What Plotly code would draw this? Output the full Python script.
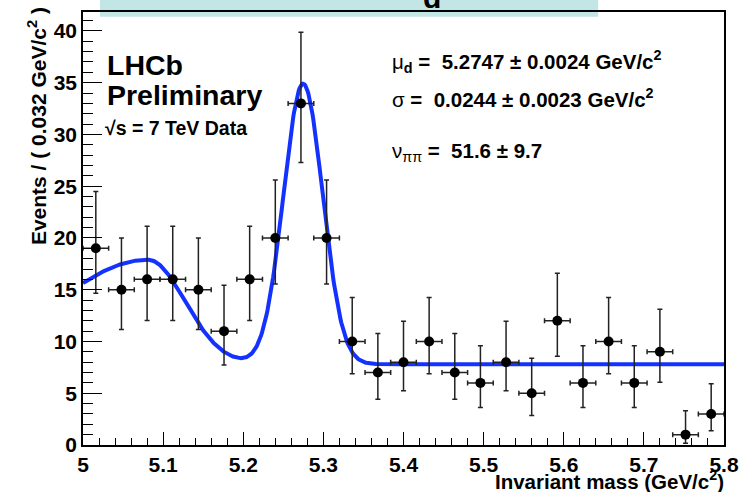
import numpy as np
import plotly.graph_objects as go

# Binned invariant-mass spectrum (bin width 0.032 GeV/c^2)
mass_centers = [5.016, 5.048, 5.080, 5.112, 5.144, 5.176, 5.208, 5.240, 5.272,
                5.304, 5.336, 5.368, 5.400, 5.432, 5.464, 5.496, 5.528, 5.560,
                5.592, 5.624, 5.656, 5.688, 5.720, 5.752, 5.784]
events = [19, 15, 16, 16, 15, 11, 16, 20, 33, 20, 10, 7, 8, 10, 7, 6, 8, 5,
          12, 6, 10, 6, 9, 1, 3]
# Asymmetric Poisson (68%) uncertainties
err_up = [5.48, 4.99, 5.12, 5.12, 4.99, 4.42, 5.12, 5.59, 6.87, 5.59, 4.26,
          3.77, 3.95, 4.26, 3.77, 3.58, 3.95, 3.38, 4.58, 3.58, 4.26, 3.58,
          4.11, 2.30, 2.92]
err_down = [4.34, 3.84, 3.97, 3.97, 3.84, 3.27, 3.97, 4.45, 5.72, 4.45, 3.11,
            2.58, 2.77, 3.11, 2.58, 2.38, 2.77, 2.16, 3.42, 2.38, 3.11, 2.38,
            2.94, 0.83, 1.63]
half_bin = 0.016

# Fit model parameters: signal Gaussian + low-mass bifurcated Gaussian + flat background
mu_d, sigma_d = 5.2747, 0.0244
sig_amp = 27.1
low_mean, low_amp, low_sig_left, low_sig_right = 5.081, 10.1, 0.114, 0.046
flat_bkg = 7.8

xf = np.linspace(5.0, 5.8, 800)
low_sig = np.where(xf < low_mean, low_sig_left, low_sig_right)
yf = (flat_bkg
      + low_amp * np.exp(-0.5 * ((xf - low_mean) / low_sig) ** 2)
      + sig_amp * np.exp(-0.5 * ((xf - mu_d) / sigma_d) ** 2))

# Plot frame in pixels
L, R, T, B = 83, 725, 10, 445
W, H = 749, 492


def px(x):
    return (x - L) / (R - L)


def py(y):
    return (B - y) / (B - T)


fig = go.Figure()
fig.add_trace(go.Scatter(
    x=xf, y=yf, mode="lines",
    line=dict(color="rgb(20,50,255)", width=4),
    hoverinfo="skip", showlegend=False))
fig.add_trace(go.Scatter(
    x=mass_centers, y=events, mode="markers",
    marker=dict(color="black", size=10),
    error_x=dict(type="constant", value=half_bin, color="#222222",
                 thickness=1.5, width=2.5),
    error_y=dict(type="data", array=err_up, arrayminus=err_down,
                 color="#222222", thickness=1.5, width=2.5),
    showlegend=False))

font_b = "Liberation Sans"

fig.update_xaxes(
    range=[5.0, 5.8], tick0=5.0, dtick=0.1, ticks="inside", ticklen=13,
    tickwidth=1.2, tickcolor="black",
    minor=dict(dtick=0.02, ticks="inside", ticklen=7, tickwidth=1.2,
               tickcolor="black"),
    showline=True, linecolor="black", linewidth=1.5, mirror=True,
    showgrid=False, zeroline=False,
    tickfont=dict(family=font_b, size=21, color="black", weight="bold"),
)
fig.update_yaxes(
    range=[0, (B - T) / 10.4], tick0=0, dtick=5, ticks="inside", ticklen=19,
    tickwidth=1.2, tickcolor="black",
    minor=dict(dtick=1, ticks="inside", ticklen=10, tickwidth=1.2,
               tickcolor="black"),
    showline=True, linecolor="black", linewidth=1.5, mirror=True,
    showgrid=False, zeroline=False,
    tickfont=dict(family=font_b, size=21, color="black", weight="bold"),
)

annots = [
    dict(text="<b>LHCb</b>", x=px(105), y=py(63), xanchor="left",
         yanchor="middle", font=dict(size=28.5)),
    dict(text="<b>Preliminary</b>", x=px(105), y=py(93), xanchor="left",
         yanchor="middle", font=dict(size=28.5)),
    dict(text="<b>\u221As = 7 TeV Data</b>", x=px(103), y=py(127),
         xanchor="left", yanchor="middle", font=dict(size=19.5)),
    dict(text="\u03bc<sub><b>d</b></sub><b> =  5.2747 \u00b1 0.0024 GeV/c<sup>2</sup></b>",
         x=px(390), y=py(60), xanchor="left", yanchor="middle",
         font=dict(size=20.5)),
    dict(text="\u03c3<b> =  0.0244 \u00b1 0.0023 GeV/c<sup>2</sup></b>",
         x=px(390), y=py(96), xanchor="left", yanchor="middle",
         font=dict(size=20.5)),
    dict(text="\u03bd<sub>\u03c0\u03c0</sub><b> =  51.6 \u00b1 9.7</b>",
         x=px(390), y=py(151), xanchor="left", yanchor="middle",
         font=dict(size=20.5)),
    dict(text="<b>Invariant mass (GeV/c<sup>2</sup>)</b>", x=px(727),
         y=py(480), xanchor="right", yanchor="middle", font=dict(size=20.5)),
    dict(text="<b>Events / ( 0.032 GeV/c<sup>2</sup> )</b>", x=px(37),
         y=py(3), xanchor="center", yanchor="top", textangle=-90,
         font=dict(size=21)),
    dict(text="<b>d</b>", x=px(433), y=py(14), xanchor="center",
         yanchor="bottom", font=dict(size=30)),
]
for a in annots:
    a.update(xref="paper", yref="paper", showarrow=False)
    a["font"].update(family=font_b, color="black")

fig.update_layout(
    width=W, height=H,
    margin=dict(l=L, r=W - R, t=T, b=H - B),
    paper_bgcolor="white", plot_bgcolor="white",
    annotations=annots,
    shapes=[dict(type="rect", xref="paper", yref="paper",
                 x0=px(100), x1=px(599), y0=py(14.7), y1=py(-5),
                 fillcolor="#c2e5e6", line=dict(width=0), layer="below")],
)

fig.write_html("out.html")
